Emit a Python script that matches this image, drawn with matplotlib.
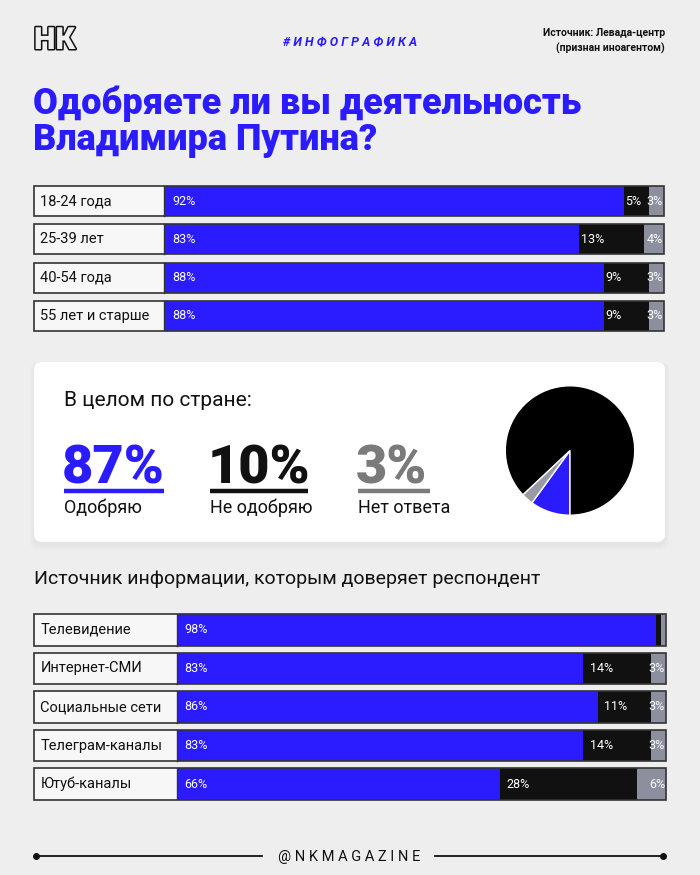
import numpy as np
import matplotlib.pyplot as plt
from matplotlib.patches import FancyBboxPatch
import matplotlib.patheffects as pe

plt.rcParams['font.family'] = ['Roboto', 'DejaVu Sans']

BLUE = '#2a1cff'
BLACK = '#111111'
GREY = '#8c8f9e'
EDGE = '#333333'

# approval by age group
ages = ['18-24 года', '25-39 лет', '40-54 года', '55 лет и старше']
age_yes = [92, 83, 88, 88]
age_no = [5, 13, 9, 9]
age_na = [3, 4, 3, 3]

# country total
total_labels = ['Одобряю', 'Не одобряю', 'Нет ответа']
total_vals = [87, 10, 3]

# by trusted source of information
sources = ['Телевидение', 'Интернет-СМИ', 'Социальные сети', 'Телеграм-каналы', 'Ютуб-каналы']
src_yes = [98, 83, 86, 83, 66]
src_no = [1, 14, 11, 14, 28]
src_na = [1, 3, 3, 3, 6]

W, H = 700, 875
fig = plt.figure(figsize=(7, 8.75), dpi=100)
fig.patch.set_facecolor('#eeeeee')
bg = fig.add_axes([0, 0, 1, 1])
bg.set_xlim(0, W)
bg.set_ylim(H, 0)
bg.axis('off')


def box(x0, y0, x1, y1):
    return [x0 / W, 1 - y1 / H, (x1 - x0) / W, (y1 - y0) / H]


# header
bg.text(34, 40, 'НК', fontsize=22, fontweight='black', color='#eeeeee', va='center',
        path_effects=[pe.withStroke(linewidth=2.2, foreground=BLACK)])
bg.text(350, 42, '# И Н Ф О Г Р А Ф И К А', fontsize=9, fontweight='bold', style='italic',
        color=BLUE, ha='center', va='center')
bg.text(665, 33, 'Источник: Левада-центр', fontsize=7.5, fontweight='bold', ha='right', va='center', color=BLACK)
bg.text(665, 48, '(признан иноагентом)', fontsize=7.5, fontweight='bold', ha='right', va='center', color=BLACK)

bg.text(33, 122, 'Одобряете ли вы деятельность\nВладимира Путина?', fontsize=26, fontweight='black',
        color=BLUE, va='center', linespacing=1.0)


def stacked(rect, cats, yes, no, na, lab, h, no_off):
    ax = fig.add_axes(rect)
    n = len(cats)
    y = np.arange(n)
    yes = np.array(yes)
    no = np.array(no)
    na = np.array(na)
    ax.barh(y, lab, left=-lab, height=h, color='#f7f7f7')
    ax.barh(y, yes, left=0, height=h, color=BLUE)
    ax.barh(y, no, left=yes, height=h, color=BLACK)
    ax.barh(y, na, left=yes + no, height=h, color=GREY)
    ax.barh(y, lab + 100, left=-lab, height=h, fill=False, edgecolor=EDGE, lw=1.2, clip_on=False)
    for i in range(n):
        ax.plot([0, 0], [i - h / 2, i + h / 2], color=EDGE, lw=1)
        ax.text(-lab + 1.3, i, cats[i], fontsize=10.5, va='center', color=BLACK)
        ax.text(1.6, i, f'{yes[i]}%', fontsize=9, va='center', color='white')
        if no[i] > 2:
            ax.text(yes[i] + no_off, i, f'{no[i]}%', fontsize=9, va='center', color='white')
        if na[i] > 2:
            ax.text(99.8, i, f'{na[i]}%', fontsize=9, va='center', ha='right', color='white')
    ax.set_xlim(-lab, 100)
    ax.set_ylim(n - 1 + h / 2, -h / 2)
    ax.axis('off')
    return ax


stacked(box(34, 186, 664, 331), ages, age_yes, age_no, age_na, 26, 0.79, 0.3)

# summary card
for k, a in enumerate([0.05, 0.04, 0.03]):
    bg.add_patch(FancyBboxPatch((34 - k * 2, 364 - k * 1), 631 + k * 4, 182 + k * 3,
                                boxstyle='round,pad=0,rounding_size=9', fc='#9aa0b0', ec='none', alpha=a))
bg.add_patch(FancyBboxPatch((34, 362), 631, 180, boxstyle='round,pad=0,rounding_size=8',
                            fc='white', ec='none'))
bg.text(64, 401, 'В целом по стране:', fontsize=15, va='center', color=BLACK)

num_x = [64, 210, 358]
num_w = [100, 98, 72]
num_c = [BLUE, BLACK, '#7a7a7a']
for i in range(3):
    bg.text(num_x[i] - 2, 483, f'{total_vals[i]}%', fontsize=39, fontweight='black',
            color=num_c[i], va='baseline')
    bg.plot([num_x[i], num_x[i] + num_w[i]], [490.5, 490.5], color=num_c[i], lw=3.2,
            solid_capstyle='butt')
    bg.text(num_x[i], 508, total_labels[i], fontsize=13, va='center', color=BLACK)

pax = fig.add_axes(box(504, 384, 636, 517))
pax.pie([total_vals[1], total_vals[2], total_vals[0]], colors=[BLUE, '#9a9aa6', '#000000'],
        startangle=-90, counterclock=False, wedgeprops=dict(edgecolor='white', linewidth=1))
pax.set_xlim(-1.02, 1.02)
pax.set_ylim(-1.02, 1.02)
pax.set_aspect('equal')

bg.text(34, 579, 'Источник информации, которым доверяет респондент', fontsize=14, va='center', color=BLACK)

stacked(box(34, 614, 666, 800), sources, src_yes, src_no, src_na, 29.2, 0.83, 1.4)

# footer
bg.plot([36, 262], [856, 856], color=BLACK, lw=1.3)
bg.plot([435, 663], [856, 856], color=BLACK, lw=1.3)
bg.plot([36, 663], [856, 856], 'o', color=BLACK, ms=4)
bg.text(349, 857, '@ N K M A G A Z I N E', fontsize=10.5, ha='center', va='center', color=BLACK)

fig.savefig('out.png', dpi=100, facecolor=fig.get_facecolor())
